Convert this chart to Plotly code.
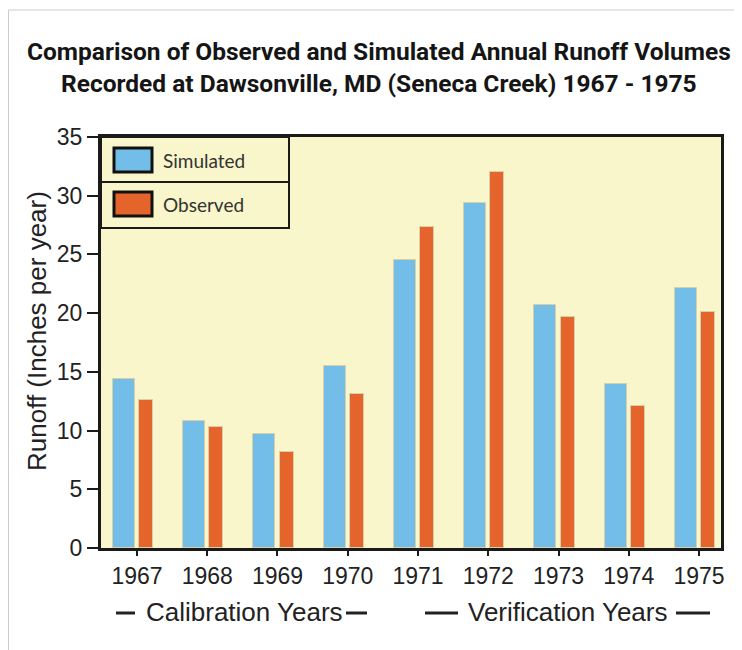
import plotly.graph_objects as go

# ---- data ----
years = [1967, 1968, 1969, 1970, 1971, 1972, 1973, 1974, 1975]
year_labels = ["1967", "1968", "1969", "1970", "1971", "1972", "1973", "1974", "1975"]
simulated = [14.4, 10.8, 9.7, 15.5, 24.5, 29.4, 20.7, 14.0, 22.1]
observed = [12.6, 10.3, 8.2, 13.1, 27.3, 32.0, 19.7, 12.1, 20.1]
y_ticks = [0, 5, 10, 15, 20, 25, 30, 35]
series_names = ["Simulated", "Observed"]
title_lines = ["Comparison of Observed and Simulated Annual Runoff Volumes",
               "Recorded at Dawsonville, MD (Seneca Creek) 1967 - 1975"]
y_title = "Runoff (Inches per year)"
period_labels = ["Calibration Years", "Verification Years"]

# ---- style ----
OFF = 8  # browser body margin
W, H = 742 - OFF, 650 - OFF
PL, PR, PT, PB = 101, 721, 137, 548  # plot area in screen pixels
L, T = PL - OFF, PT - OFF
R, B = W - (PR - OFF), H - (PB - OFF)
PW, PH = PR - PL, PB - PT
BLUE = "#72BEE8"
ORANGE = "#E5642C"
PLOT_BG = "#F8F6CA"
EDGE = "#D9CFA8"
SANS = "Liberation Sans, Arial, Helvetica, sans-serif"
TITLE_FONT = "Roboto, Liberation Sans, sans-serif"


def px(x):
    return (x - PL) / PW


def py(y):
    return (PB - y) / PH


fig = go.Figure()
fig.add_trace(go.Bar(x=years, y=simulated, name=series_names[0],
                     marker=dict(color=BLUE, line=dict(color=EDGE, width=1)),
                     offset=-0.342, width=0.313, showlegend=False))
fig.add_trace(go.Bar(x=years, y=observed, name=series_names[1],
                     marker=dict(color=ORANGE, line=dict(color=EDGE, width=1)),
                     offset=0.029, width=0.199, showlegend=False))

shapes = []
annotations = []

# custom legend box (top-left, inside plot)
shapes.append(dict(type="rect", xref="paper", yref="paper",
                   x0=px(101), x1=px(289), y0=py(228), y1=py(137),
                   line=dict(color="#1a1a1a", width=2), fillcolor=PLOT_BG, layer="above"))
shapes.append(dict(type="line", xref="paper", yref="paper",
                   x0=px(101), x1=px(289), y0=py(182), y1=py(182),
                   line=dict(color="#1a1a1a", width=2), layer="above"))
for i, (name, col) in enumerate(zip(series_names, [BLUE, ORANGE])):
    yc = 160 + 44 * i
    shapes.append(dict(type="rect", xref="paper", yref="paper",
                       x0=px(114), x1=px(152), y0=py(yc + 12), y1=py(yc - 12),
                       line=dict(color="#111111", width=3), fillcolor=col, layer="above"))
    annotations.append(dict(text=name, xref="paper", yref="paper",
                            x=px(161), y=py(yc), xanchor="left", yanchor="middle",
                            showarrow=False, font=dict(family="Lato, sans-serif", size=19, color="#333333")))

# title
annotations.append(dict(text="<b>" + title_lines[0] + "</b><br><b>" + title_lines[1] + "</b>",
                        xref="paper", yref="paper", x=px(379), y=py(67),
                        xanchor="center", yanchor="middle", showarrow=False,
                        font=dict(family=TITLE_FONT, size=24.5, color="#151515")))

# period labels under axis, with dash decorations
period_centers = [(146 + 343) / 2, (466 + 668) / 2]
dash_spans = [[(116, 135), (346, 367)], [(425, 458), (676, 710)]]
for lab, xc, spans in zip(period_labels, period_centers, dash_spans):
    annotations.append(dict(text=lab, xref="paper", yref="paper",
                            x=px(xc), y=py(612), xanchor="center", yanchor="middle",
                            showarrow=False, font=dict(family=SANS, size=26, color="#222222")))
    for a, b in spans:
        shapes.append(dict(type="line", xref="paper", yref="paper",
                           x0=px(a), x1=px(b), y0=py(613), y1=py(613),
                           line=dict(color="#222222", width=3)))

# y-axis title placed to match reference position
annotations.append(dict(text=y_title, xref="paper", yref="paper",
                        x=px(37), y=py(331), xanchor="center", yanchor="middle",
                        textangle=-90, showarrow=False,
                        font=dict(family=SANS, size=26, color="#222222")))

# light page border
shapes.append(dict(type="line", xref="paper", yref="paper",
                   x0=px(8.5), x1=px(742), y0=py(10), y1=py(10),
                   line=dict(color="#cccccc", width=1), layer="below"))
shapes.append(dict(type="line", xref="paper", yref="paper",
                   x0=px(8.5), x1=px(8.5), y0=py(10), y1=py(650),
                   line=dict(color="#cccccc", width=1), layer="below"))

fig.update_layout(
    width=W, height=H,
    margin=dict(l=L, r=R, t=T, b=B, pad=0),
    paper_bgcolor="white",
    plot_bgcolor=PLOT_BG,
    barmode="overlay",
    bargap=0,
    shapes=shapes,
    annotations=annotations,
    showlegend=False,
)
fig.update_xaxes(range=[1966.488, 1975.313], tickmode="array", tickvals=years, ticktext=year_labels,
                 ticks="outside", ticklen=5, tickwidth=2, tickcolor="#1a1a1a",
                 showline=True, linewidth=3, linecolor="#1a1a1a", mirror=True,
                 showgrid=False, zeroline=False,
                 tickfont=dict(family=SANS, size=23, color="#222222"))
fig.update_yaxes(range=[0, 35], tickmode="array", tickvals=y_ticks,
                 ticks="outside", ticklen=11, tickwidth=2, tickcolor="#1a1a1a",
                 showline=True, linewidth=3, linecolor="#1a1a1a", mirror=True,
                 showgrid=False, zeroline=False,
                 tickfont=dict(family=SANS, size=23, color="#222222"))

fig.write_html("out.html")
